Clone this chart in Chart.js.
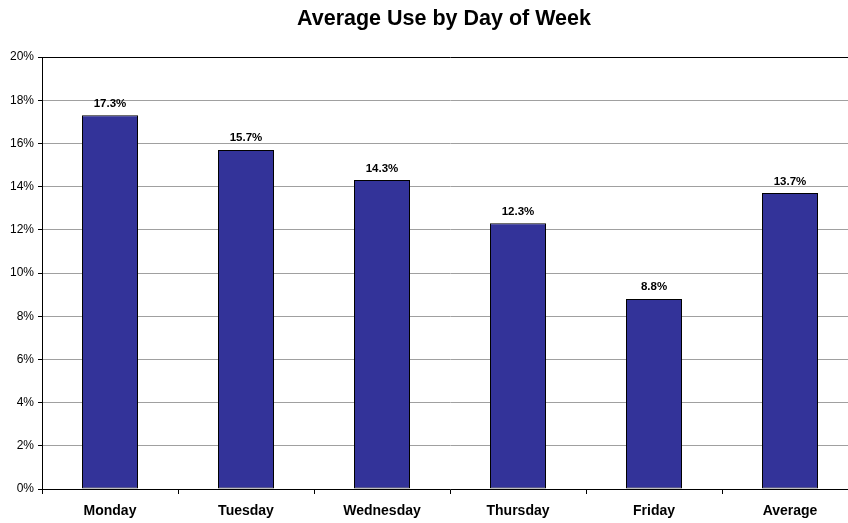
<!DOCTYPE html>
<html>
<head>
<meta charset="utf-8">
<script src="https://cdn.jsdelivr.net/npm/chart.js@4"></script>
<style>
  html, body { margin: 0; padding: 0; background: #fff; }
  /* plot runs a little past the right edge in the original, so the canvas is cropped */
  #wrap { width: 848px; height: 523px; overflow: hidden; }
</style>
</head>
<body>
<div id="wrap"><canvas id="useChart" width="858" height="523"></canvas></div>
<script>
// chart data
const days = ["Monday", "Tuesday", "Wednesday", "Thursday", "Friday", "Average"];
const usePercent = [17.3, 15.7, 14.3, 12.3, 8.8, 13.7];
const yTicks = [0, 2, 4, 6, 8, 10, 12, 14, 16, 18, 20];
const chartTitle = "Average Use by Day of Week";

const FONT = "'Liberation Sans', Arial, sans-serif";

// title sits over the visible part of the picture
const titleText = {
  id: "titleText",
  afterDraw(chart) {
    const ctx = chart.ctx;
    ctx.save();
    ctx.font = "bold 21.5px " + FONT;
    ctx.fillStyle = "#000";
    ctx.textAlign = "center";
    ctx.textBaseline = "middle";
    ctx.fillText(chartTitle, (chart.chartArea.left + chart.chartArea.right) / 2 - 6, 19);
    ctx.restore();
  },
};

// draws the value above each bar
const valueLabels = {
  id: "valueLabels",
  afterDatasetsDraw(chart) {
    const ctx = chart.ctx;
    const meta = chart.getDatasetMeta(0);
    ctx.save();
    ctx.font = "bold 11.5px " + FONT;
    ctx.fillStyle = "#000";
    ctx.textAlign = "center";
    ctx.textBaseline = "bottom";
    meta.data.forEach((bar, i) => {
      ctx.fillText(usePercent[i].toFixed(1) + "%", bar.x, bar.y - 6);
    });
    ctx.restore();
  },
};

const ctx = document.getElementById("useChart").getContext("2d");
new Chart(ctx, {
  type: "bar",
  data: {
    labels: days,
    datasets: [
      {
        data: usePercent,
        backgroundColor: "#333399",
        borderColor: "#000",
        borderWidth: 1,
        borderSkipped: false,
        categoryPercentage: 1,
        barPercentage: 56 / 136,
      },
    ],
  },
  options: {
    responsive: false,
    animation: false,
    layout: { padding: { left: 0, right: 0, top: 57, bottom: 0 } },
    plugins: {
      legend: { display: false },
      tooltip: { enabled: false },
      title: { display: false },
    },
    scales: {
      x: {
        offset: true,
        grid: {
          offset: true,
          drawOnChartArea: false,
          drawTicks: true,
          tickLength: 5,
          color: "#000",
        },
        border: { color: "#000", width: 1 },
        ticks: {
          color: "#000",
          padding: 9,
          maxRotation: 0,
          font: { family: FONT, size: 14, weight: "bold" },
        },
        afterFit(scale) { scale.height = 34; },
      },
      y: {
        min: 0,
        max: 20,
        afterBuildTicks(scale) {
          scale.ticks = yTicks.map((v) => ({ value: v }));
        },
        grid: {
          color: (c) => (c.tick && c.tick.value === 20 ? "#000" : "#a0a0a0"),
          tickColor: "#000",
          tickLength: 4,
        },
        border: { color: "#000", width: 1 },
        ticks: {
          color: "#000",
          padding: 4,
          font: { family: FONT, size: 12 },
          callback: (v) => v + "%",
        },
        afterFit(scale) { scale.width = 42; },
      },
    },
  },
  plugins: [valueLabels, titleText],
});
</script>
</body>
</html>
